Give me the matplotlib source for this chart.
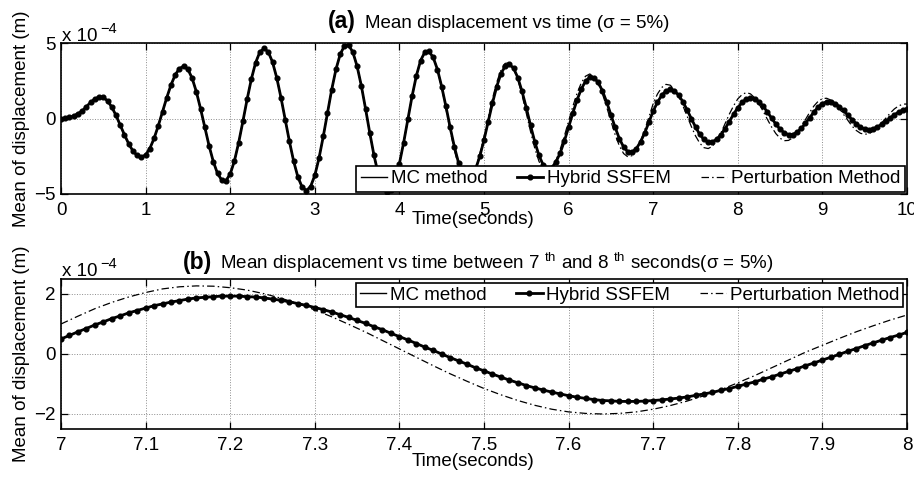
import numpy as np
import matplotlib
matplotlib.use("Agg")
import matplotlib.pyplot as plt

plt.rcParams['font.family'] = ['Liberation Sans', 'DejaVu Sans']
plt.rcParams['mathtext.fontset'] = 'custom'
plt.rcParams['mathtext.rm'] = 'Liberation Sans'

# mean displacement, units of 1e-4 m
# (a) 0..10 s, every 0.05 s
time_a = np.linspace(0, 10, 201)
hybrid_a = [
    0.00, 0.02, 0.07, 0.17, 0.32, 0.50, 0.78, 1.07, 1.30, 1.42,
    1.40, 1.17, 0.76, 0.21, -0.43, -1.08, -1.67, -2.15, -2.45, -2.56,
    -2.41, -1.99, -1.32, -0.48, 0.45, 1.38, 2.22, 2.89, 3.31, 3.46,
    3.26, 2.67, 1.77, 0.64, -0.59, -1.80, -2.85, -3.64, -4.08, -4.11,
    -3.68, -2.81, -1.60, -0.19, 1.27, 2.61, 3.69, 4.40, 4.64, 4.41,
    3.74, 2.70, 1.39, -0.07, -1.52, -2.83, -3.87, -4.54, -4.77, -4.51,
    -3.77, -2.62, -1.19, 0.38, 1.92, 3.25, 4.25, 4.81, 4.86, 4.39,
    3.46, 2.17, 0.64, -0.96, -2.45, -3.68, -4.53, -4.89, -4.74, -4.07,
    -2.99, -1.60, -0.06, 1.48, 2.82, 3.83, 4.39, 4.44, 4.04, 3.24,
    2.11, 0.80, -0.59, -1.88, -2.95, -3.68, -3.99, -3.87, -3.36, -2.51,
    -1.42, -0.20, 1.02, 2.11, 2.96, 3.47, 3.59, 3.33, 2.70, 1.79,
    0.71, -0.46, -1.54, -2.45, -3.08, -3.34, -3.26, -2.89, -2.29, -1.49,
    -0.58, 0.36, 1.23, 1.95, 2.47, 2.73, 2.70, 2.39, 1.83, 1.09,
    0.25, -0.59, -1.33, -1.89, -2.20, -2.22, -2.00, -1.55, -0.95, -0.24,
    0.50, 1.07, 1.53, 1.83, 1.93, 1.83, 1.55, 1.12, 0.58, 0.00,
    -0.56, -1.05, -1.39, -1.56, -1.55, -1.38, -1.08, -0.67, -0.20, 0.28,
    0.72, 1.06, 1.29, 1.37, 1.30, 1.11, 0.81, 0.43, 0.02, -0.37,
    -0.71, -0.95, -1.07, -1.06, -0.91, -0.66, -0.32, 0.06, 0.43, 0.76,
    0.99, 1.11, 1.10, 0.99, 0.79, 0.53, 0.23, -0.08, -0.35, -0.57,
    -0.70, -0.73, -0.68, -0.56, -0.39, -0.19, 0.03, 0.24, 0.42, 0.55,
    0.61]
mc_a = hybrid_a
pert_a = [
    0.00, 0.02, 0.07, 0.17, 0.32, 0.50, 0.78, 1.07, 1.30, 1.42,
    1.40, 1.17, 0.76, 0.21, -0.43, -1.08, -1.67, -2.15, -2.45, -2.56,
    -2.41, -1.99, -1.32, -0.48, 0.45, 1.38, 2.22, 2.89, 3.31, 3.46,
    3.26, 2.67, 1.77, 0.64, -0.59, -1.80, -2.85, -3.64, -4.08, -4.11,
    -3.68, -2.81, -1.60, -0.19, 1.27, 2.61, 3.69, 4.40, 4.64, 4.41,
    3.74, 2.70, 1.39, -0.07, -1.52, -2.83, -3.87, -4.54, -4.77, -4.51,
    -3.77, -2.62, -1.19, 0.38, 1.92, 3.25, 4.25, 4.81, 4.86, 4.39,
    3.46, 2.17, 0.64, -0.96, -2.45, -3.68, -4.53, -4.89, -4.74, -4.07,
    -2.99, -1.60, -0.06, 1.48, 2.82, 3.83, 4.39, 4.51, 4.09, 3.23,
    2.05, 0.65, -0.78, -2.11, -3.17, -3.86, -4.10, -3.89, -3.29, -2.36,
    -1.20, 0.06, 1.31, 2.39, 3.20, 3.65, 3.69, 3.32, 2.57, 1.55,
    0.36, -0.86, -1.97, -2.84, -3.37, -3.49, -3.28, -2.79, -2.05, -1.16,
    -0.18, 0.80, 1.67, 2.36, 2.80, 2.95, 2.79, 2.33, 1.63, 0.76,
    -0.17, -1.07, -1.81, -2.32, -2.54, -2.46, -2.10, -1.51, -0.75, 0.10,
    0.99, 1.62, 2.05, 2.26, 2.21, 1.94, 1.47, 0.86, 0.17, -0.52,
    -1.15, -1.63, -1.93, -1.99, -1.84, -1.48, -0.96, -0.33, 0.29, 0.84,
    1.30, 1.58, 1.72, 1.63, 1.37, 0.97, 0.48, -0.06, -0.57, -1.00,
    -1.31, -1.47, -1.45, -1.27, -0.96, -0.54, -0.07, 0.41, 0.83, 1.14,
    1.32, 1.34, 1.22, 0.98, 0.66, 0.27, -0.13, -0.50, -0.79, -0.98,
    -1.05, -1.00, -0.84, -0.60, -0.30, 0.03, 0.35, 0.63, 0.83, 0.95,
    0.96]

# (b) 7..8 s
time_b = np.linspace(7, 8, 101)
hybrid_b = [
    0.50, 0.62, 0.74, 0.85, 0.97, 1.07, 1.18, 1.27, 1.37, 1.45,
    1.53, 1.61, 1.67, 1.73, 1.78, 1.83, 1.87, 1.89, 1.91, 1.93,
    1.93, 1.93, 1.91, 1.90, 1.87, 1.83, 1.79, 1.74, 1.68, 1.62,
    1.55, 1.48, 1.40, 1.31, 1.22, 1.12, 1.02, 0.91, 0.81, 0.69,
    0.58, 0.47, 0.35, 0.23, 0.12, 0.00, -0.12, -0.23, -0.34, -0.46,
    -0.56, -0.67, -0.77, -0.87, -0.96, -1.05, -1.13, -1.20, -1.27, -1.33,
    -1.39, -1.44, -1.48, -1.52, -1.55, -1.56, -1.58, -1.58, -1.58, -1.57,
    -1.55, -1.53, -1.50, -1.47, -1.43, -1.38, -1.33, -1.28, -1.21, -1.15,
    -1.08, -1.00, -0.93, -0.84, -0.76, -0.67, -0.58, -0.49, -0.39, -0.30,
    -0.20, -0.11, -0.01, 0.09, 0.18, 0.28, 0.37, 0.46, 0.55, 0.63,
    0.72]
mc_b = hybrid_b
time_b_pert = np.linspace(7, 8, 51)
pert_b = [
    1.00, 1.26, 1.51, 1.72, 1.90, 2.05, 2.17, 2.24, 2.27, 2.26,
    2.21, 2.13, 2.01, 1.86, 1.68, 1.47, 1.24, 0.99, 0.73, 0.45,
    0.17, -0.11, -0.39, -0.66, -0.91, -1.15, -1.36, -1.55, -1.71, -1.84,
    -1.93, -1.98, -2.00, -1.98, -1.93, -1.84, -1.72, -1.57, -1.39, -1.19,
    -0.96, -0.72, -0.46, -0.20, 0.06, 0.29, 0.52, 0.74, 0.94, 1.13,
    1.30]

xticks_a = [0, 1, 2, 3, 4, 5, 6, 7, 8, 9, 10]
yticks_a = [-5, 0, 5]
xticks_b = [7, 7.1, 7.2, 7.3, 7.4, 7.5, 7.6, 7.7, 7.8, 7.9, 8]
xticklabels_b = ['7', '7.1', '7.2', '7.3', '7.4', '7.5', '7.6', '7.7', '7.8', '7.9', '8']
yticks_b = [-2, 0, 2]

W, H = 914, 478
fs = 13.5
dashdot = (0, (6, 2.5, 1.2, 2.5))


def style_axes(ax):
    ax.tick_params(direction='in', top=True, right=True, length=5, width=0.9,
                   labelsize=fs)
    ax.tick_params(axis='x', pad=5.5)
    ax.tick_params(axis='y', pad=4)
    ax.grid(True, linestyle=':', color='0.55', linewidth=0.7)
    for s in ax.spines.values():
        s.set_linewidth(1.2)


def draw(ax, t, mc, hyb, tp, pert, ms):
    ax.plot(t, mc, '-', color='black', linewidth=1.0, label='MC method')
    ax.plot(t, hyb, '-', color='black', linewidth=2.0, marker='o',
            markersize=ms, label='Hybrid SSFEM')
    ax.plot(tp, pert, color='black', linestyle=dashdot, linewidth=0.9,
            label='Perturbation Method')


fig = plt.figure(figsize=(W / 100, H / 100), dpi=100)

# panel (a)
ax1 = fig.add_axes([61 / W, 1 - 194 / H, 846 / W, 151 / H])
draw(ax1, time_a, mc_a, hybrid_a, time_a, pert_a, 3.4)
ax1.set_xlim(0, 10)
ax1.set_ylim(-5, 5)
ax1.set_xticks(xticks_a)
ax1.set_yticks(yticks_a)
style_axes(ax1)
leg1 = ax1.legend(loc='lower right', ncol=3, fontsize=fs, frameon=True,
                  fancybox=False, edgecolor='black', framealpha=1,
                  borderaxespad=0.1, borderpad=0.25, handlelength=1.4,
                  handletextpad=0.2, columnspacing=1.6, numpoints=1)
leg1.get_frame().set_linewidth(1.2)

# panel (b)
ax2 = fig.add_axes([61 / W, 1 - 429 / H, 846 / W, 150 / H])
draw(ax2, time_b, mc_b, hybrid_b, time_b_pert, pert_b, 3.4)
ax2.set_xlim(7, 8)
ax2.set_ylim(-2.5, 2.5)
ax2.set_xticks(xticks_b)
ax2.set_xticklabels(xticklabels_b)
ax2.set_yticks(yticks_b)
style_axes(ax2)
leg2 = ax2.legend(loc='upper right', ncol=3, fontsize=fs, frameon=True,
                  fancybox=False, edgecolor='black', framealpha=1,
                  borderaxespad=0.2, borderpad=0.2, handlelength=1.4,
                  handletextpad=0.2, columnspacing=1.6, numpoints=1)
leg2.get_frame().set_linewidth(1.2)

# titles
sigma = '\u03c3'
fig.text(328 / W, 1 - 28 / H, '(a)', fontsize=16.5, fontweight='bold')
fig.text(365 / W, 1 - 28 / H, 'Mean displacement vs time (' + sigma + ' = 5%)', fontsize=fs)
fig.text(183 / W, 1 - 269 / H, '(b)', fontsize=16.5, fontweight='bold')
fig.text(220 / W, 1 - 269 / H,
         r'Mean displacement vs time between 7 $^{\rm th}$ and 8 $^{\rm th}$ seconds('
         + sigma + ' = 5%)', fontsize=fs)

# exponent labels
for base in (41, 276):
    fig.text(62 / W, 1 - base / H, 'x 10', fontsize=fs)
    fig.text(100 / W, 1 - (base - 8) / H, '\u22124', fontsize=10.5)

# axis labels
for top, bot in ((43, 194), (279, 429)):
    fig.text(22 / W, 1 - (top + bot) / 2 / H, 'Mean of displacement (m)',
             rotation=90, ha='center', va='center', fontsize=fs)
fig.text(473 / W, 1 - 219 / H, 'Time(seconds)', ha='center', va='center', fontsize=fs)
fig.text(473 / W, 1 - 461 / H, 'Time(seconds)', ha='center', va='center', fontsize=fs)

fig.savefig('out.png', dpi=100)
